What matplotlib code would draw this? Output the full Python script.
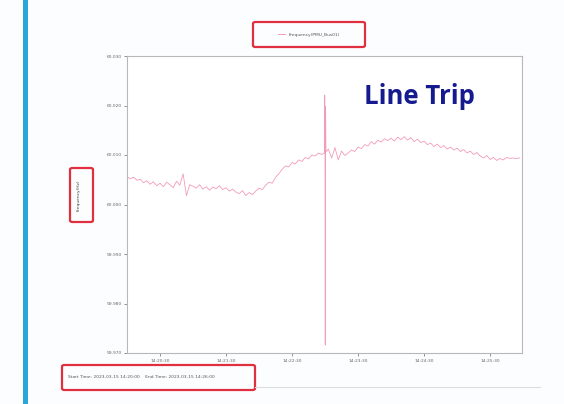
import numpy as np
import matplotlib
matplotlib.use('Agg')
import matplotlib.pyplot as plt
from matplotlib.patches import FancyBboxPatch
from matplotlib.lines import Line2D

# Frequency trace (Hz), one sample every 3 s
freq_hz = [
    60.0056, 60.0052, 60.0055, 60.0049, 60.0051, 60.0044, 60.0048,
    60.0041, 60.0046, 60.0038, 60.0043, 60.0036, 60.0045, 60.0040, 60.0034, 60.0047, 60.0039, 60.0062, 60.0018, 60.0040,
    60.0037, 60.0033, 60.0040, 60.0031, 60.0036, 60.0029, 60.0035, 60.0032, 60.0038, 60.0030, 60.0034, 60.0027, 60.0031, 60.0025,
    60.0022, 60.0028, 60.0018, 60.0024, 60.0020,
    60.0027, 60.0033, 60.0030, 60.0039, 60.0045, 60.0043, 60.0055, 60.0062,
    60.0071, 60.0078, 60.0076, 60.0085, 60.0082, 60.0090, 60.0087, 60.0095, 60.0092, 60.0100,
    60.0098, 60.0104, 60.0101,
    60.0106, 60.0112, 60.0094, 60.0115, 60.0090, 60.0108, 60.0099,
    60.0104, 60.0110, 60.0107, 60.0116, 60.0113, 60.0121, 60.0118, 60.0127, 60.0122, 60.0130, 60.0126, 60.0133, 60.0129,
    60.0134, 60.0128, 60.0136, 60.0131, 60.0137, 60.0130, 60.0135, 60.0127, 60.0132, 60.0125,
    60.0128, 60.0121, 60.0124, 60.0117, 60.0122, 60.0115, 60.0119, 60.0112, 60.0116, 60.0110, 60.0114, 60.0107, 60.0111,
    60.0104, 60.0108, 60.0101, 60.0105,
    60.0098, 60.0094, 60.0099, 60.0091, 60.0095, 60.0089, 60.0093, 60.0090, 60.0095,
    60.0093, 60.0094, 60.0093, 60.0094,
]
time_s = np.arange(len(freq_hz)) * 3.0

# the line trip transient
spike_t = [179.4, 179.7, 180.2, 180.5, 180.8]
spike_hz = [60.0104, 60.0221, 59.9716, 60.0198, 60.0106]

xtick_pos = [30, 90, 150, 210, 270, 330]
xtick_labels = ['14:20:30', '14:21:30', '14:22:30', '14:23:30', '14:24:30', '14:25:30']
ytick_pos = [59.970, 59.980, 59.990, 60.000, 60.010, 60.020, 60.030]

legend_label = 'Frequency(PMU_Bus01)'
ylabel = 'Frequency(Hz)'
time_text = 'Start Time: 2023-03-15 14:20:00    End Time: 2023-03-15 14:26:00'

W, H = 564, 404
fig = plt.figure(figsize=(W / 100, H / 100), dpi=100)
fig.patch.set_facecolor('#fcfdfe')


def fx(px):
    return px / W


def fy(py):
    return 1 - py / H


# blue bar on the left edge
fig.add_artist(plt.Rectangle((fx(23), 0), fx(5), 1, color='#2ba6d6',
                             transform=fig.transFigure, lw=0))

ax = fig.add_axes([fx(127), fy(353), fx(395), fy(56) - fy(353)])
ax.set_facecolor('white')

line_color = '#f39bbb'
t = np.concatenate([time_s, spike_t])
f = np.concatenate([freq_hz, spike_hz])
order = np.argsort(t, kind='stable')
ax.plot(t[order], f[order], color=line_color, lw=0.6, label=legend_label)

ax.set_xlim(0, 359)
ax.set_ylim(59.970, 60.030)
ax.set_xticks(xtick_pos)
ax.set_xticklabels(xtick_labels)
ax.set_yticks(ytick_pos)
ax.set_yticklabels([f'{v:.3f}' for v in ytick_pos])
ax.tick_params(labelsize=3.2, colors='#666666', length=2, width=0.5, pad=2)
for s in ax.spines.values():
    s.set_color('#b8b8b8')
    s.set_linewidth(0.8)

ax.set_ylabel(ylabel, fontsize=3.2, color='#444444')
ax.yaxis.set_label_coords(fx(81), fy(195), transform=fig.transFigure)

ax.text(0.600, 0.862, 'Line Trip', transform=ax.transAxes, fontsize=18.5,
        fontweight='bold', family='Open Sans', color='#161a8f', va='center', ha='left')

# legend above the plot
handle = Line2D([], [], color=line_color, lw=0.7)
fig.legend([handle], [legend_label], loc='center', bbox_to_anchor=(fx(309), fy(34.5)),
           frameon=False, fontsize=3.2, handlelength=1.5, labelcolor='#555555')

# bottom time range text
fig.text(fx(68), fy(377.5), time_text, fontsize=3.2, color='#555555', va='center')
fig.add_artist(Line2D([fx(255), fx(540)], [fy(387), fy(387)], color='#dddddd', lw=0.8,
                      transform=fig.transFigure))

# red highlight boxes
for (x0, y0, x1, y1) in [(253, 22, 365, 47), (70, 168, 93, 222), (62, 365, 255, 390)]:
    fig.add_artist(FancyBboxPatch((fx(x0), fy(y1)), fx(x1 - x0), fy(y0) - fy(y1),
                                  boxstyle='round,pad=0,rounding_size=0.004',
                                  transform=fig.transFigure, fill=False,
                                  edgecolor='#e0303f', lw=1.6))

fig.savefig('out.png', dpi=100, facecolor=fig.get_facecolor())
